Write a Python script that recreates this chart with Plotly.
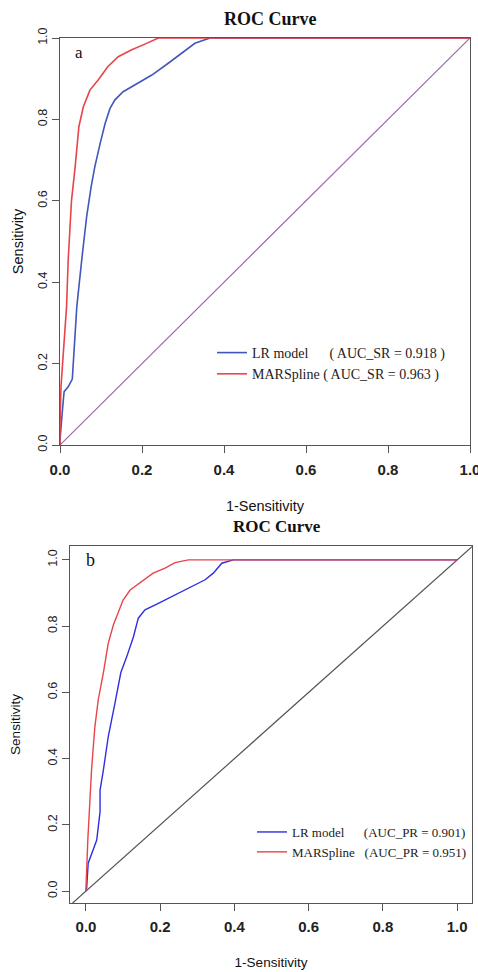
import plotly.graph_objects as go

# panel a: success rate curves (1-specificity, sensitivity)
fpr_lr_a = [0.0, 0.0, 0.006, 0.010, 0.020, 0.030, 0.037, 0.041, 0.053, 0.065, 0.076, 0.085,
            0.098, 0.110, 0.122, 0.134, 0.154, 0.183, 0.224, 0.264, 0.297, 0.329, 0.366, 1.0]
tpr_lr_a = [0.0, 0.012, 0.086, 0.131, 0.143, 0.162, 0.275, 0.340, 0.455, 0.561, 0.635, 0.684,
            0.741, 0.790, 0.827, 0.848, 0.868, 0.885, 0.909, 0.938, 0.962, 0.987, 1.0, 1.0]
fpr_mars_a = [0.0, 0.0, 0.0024, 0.008, 0.016, 0.020, 0.028, 0.037, 0.046, 0.057, 0.073, 0.093,
              0.117, 0.142, 0.175, 0.207, 0.240, 1.0]
tpr_mars_a = [0.0, 0.05, 0.143, 0.233, 0.340, 0.455, 0.600, 0.684, 0.782, 0.831, 0.872, 0.897,
              0.930, 0.954, 0.971, 0.985, 1.0, 1.0]
diag_a = [0.0, 1.0]

# panel b: prediction rate curves
fpr_lr_b = [0.0, 0.002, 0.006, 0.015, 0.029, 0.038, 0.038, 0.047, 0.060, 0.078, 0.094, 0.110,
            0.128, 0.141, 0.159, 0.195, 0.240, 0.285, 0.321, 0.343, 0.366, 0.397, 1.0]
tpr_lr_b = [0.0, 0.010, 0.084, 0.114, 0.154, 0.240, 0.305, 0.366, 0.466, 0.567, 0.660, 0.708,
            0.768, 0.824, 0.849, 0.869, 0.894, 0.919, 0.940, 0.960, 0.990, 1.0, 1.0]
fpr_mars_b = [0.0, 0.0, 0.005, 0.013, 0.015, 0.024, 0.033, 0.047, 0.060, 0.074, 0.087, 0.100,
              0.119, 0.150, 0.181, 0.213, 0.240, 0.276, 1.0]
tpr_mars_b = [0.0, 0.010, 0.154, 0.305, 0.366, 0.496, 0.577, 0.660, 0.748, 0.804, 0.844, 0.879,
              0.909, 0.934, 0.960, 0.975, 0.992, 1.0, 1.0]
diag_b = [-0.043, 1.04]

ticks = [0.0, 0.2, 0.4, 0.6, 0.8, 1.0]
tick_text = ['0.0', '0.2', '0.4', '0.6', '0.8', '1.0']

NB = '\u00a0'
name_lr_a = 'LR model' + NB * 6 + '( AUC_SR = 0.918 )'
name_mars_a = 'MARSpline' + NB + '( AUC_SR = 0.963 )'
name_lr_b = 'LR model' + NB * 6 + '(AUC_PR = 0.901)'
name_mars_b = 'MARSpline' + NB * 3 + '(AUC_PR = 0.951)'

W, H = 478, 972
def px(x):
    return x / W
def py(y):
    return 1 - y / H

RED = '#e8444a'
BLUE_A = '#4058b8'
BLUE_B = '#2f2fe0'

fig = go.Figure()
fig.add_trace(go.Scatter(x=diag_a, y=diag_a, mode='lines', line=dict(color='#9a6aa8', width=1.2),
                         showlegend=False, xaxis='x', yaxis='y', hoverinfo='skip'))
fig.add_trace(go.Scatter(x=fpr_lr_a, y=tpr_lr_a, mode='lines', name=name_lr_a,
                         line=dict(color=BLUE_A, width=1.6), xaxis='x', yaxis='y', legend='legend'))
fig.add_trace(go.Scatter(x=fpr_mars_a, y=tpr_mars_a, mode='lines', name=name_mars_a,
                         line=dict(color=RED, width=1.6), xaxis='x', yaxis='y', legend='legend'))

fig.add_trace(go.Scatter(x=diag_b, y=diag_b, mode='lines', line=dict(color='#555555', width=1.2),
                         showlegend=False, xaxis='x2', yaxis='y2', hoverinfo='skip'))
fig.add_trace(go.Scatter(x=fpr_lr_b, y=tpr_lr_b, mode='lines', name=name_lr_b,
                         line=dict(color=BLUE_B, width=1.4), xaxis='x2', yaxis='y2', legend='legend2'))
fig.add_trace(go.Scatter(x=fpr_mars_b, y=tpr_mars_b, mode='lines', name=name_mars_b,
                         line=dict(color=RED, width=1.4), xaxis='x2', yaxis='y2', legend='legend2'))

axis_common = dict(showline=True, mirror=True, linecolor='#555555', linewidth=1.3,
                   ticks='outside', ticklen=7, tickcolor='#555555', tickwidth=1.2,
                   showgrid=False, zeroline=False, tickvals=ticks, ticktext=tick_text,
                   fixedrange=True, automargin=False, ticklabeloverflow='allow')
xtickfont = dict(family='Liberation Sans, Arial', size=15, color='#222222', weight='bold')
ytickfont = dict(family='Liberation Sans, Arial', size=12.5, color='#222222')
titlefont = dict(family='Liberation Sans, Arial', size=14.5, color='#111111')
serif = 'Liberation Serif, Times New Roman'

fig.update_layout(
    width=W, height=H,
    margin=dict(l=0, r=0, t=0, b=0, autoexpand=False),
    paper_bgcolor='white', plot_bgcolor='white',
    xaxis=dict(domain=[px(60), px(470)], range=[0, 1], anchor='y', tickfont=xtickfont,
               ticklabelstandoff=4,
               title=dict(text='1-Sensitivity', font=titlefont, standoff=23), **axis_common),
    yaxis=dict(domain=[py(445), py(38)], range=[0, 1], anchor='x', tickfont=ytickfont, tickangle=-90,
               title=dict(text='Sensitivity', font=titlefont, standoff=8), **axis_common),
    xaxis2=dict(domain=[px(70), px(472)], range=[-0.043, 1.04], anchor='y2', tickfont=xtickfont,
                ticklabelstandoff=3,
                title=dict(text='1-Sensitivity', font=dict(titlefont, size=13.5), standoff=23),
                **axis_common),
    yaxis2=dict(domain=[py(903), py(546)], range=[-0.036, 1.042], anchor='x2', tickfont=ytickfont,
                tickangle=-90, ticklabelstandoff=0,
                title=dict(text='Sensitivity', font=dict(titlefont, size=13.5), standoff=22), **axis_common),
    legend=dict(x=px(212), y=py(337), xanchor='left', yanchor='top', bgcolor='rgba(0,0,0,0)',
                font=dict(family=serif, size=14, color='#222222'), tracegroupgap=0),
    legend2=dict(x=px(252), y=py(817), xanchor='left', yanchor='top', bgcolor='rgba(0,0,0,0)',
                 font=dict(family=serif, size=13, color='#222222'), tracegroupgap=0),
    annotations=[
        dict(text='<b>ROC Curve</b>', x=px(270), y=py(19), xref='paper', yref='paper', yanchor='middle',
             showarrow=False, font=dict(family=serif, size=18, color='#111111')),
        dict(text='<b>ROC Curve</b>', x=px(277), y=py(526), xref='paper', yref='paper', yanchor='middle',
             showarrow=False, font=dict(family=serif, size=17, color='#111111')),
        dict(text='a', x=px(73), y=py(53), xref='paper', yref='paper', yanchor='middle', showarrow=False,
             font=dict(family=serif, size=17, color='#111111')),
        dict(text='b', x=px(84), y=py(560), xref='paper', yref='paper', yanchor='middle', showarrow=False,
             font=dict(family=serif, size=18, color='#111111')),
    ],
)

# page body has a default 8px margin, drop it so the figure sits at the window origin
fig.write_html('out.html', config={'displayModeBar': False},
               post_script="document.body.style.margin='0';")
